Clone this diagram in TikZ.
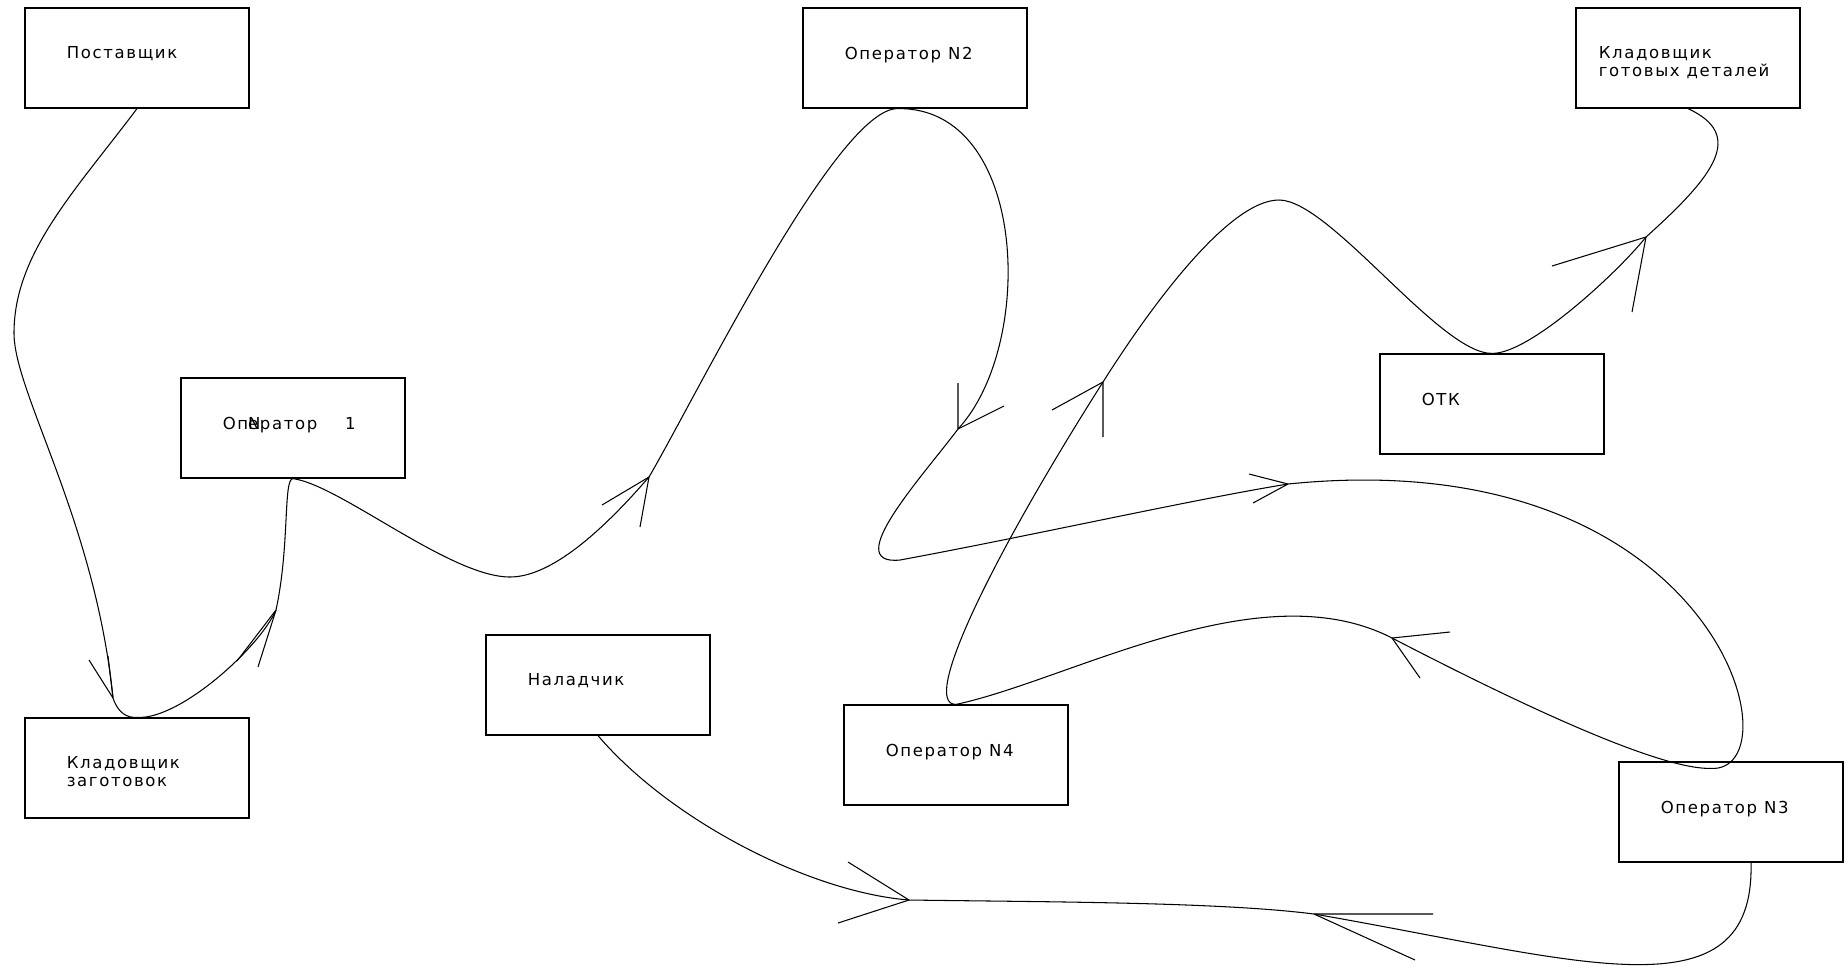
\documentclass[tikz,border=0pt]{standalone}
\usepackage{fontspec}
\newfontfamily\cadfont[LetterSpace=10]{DejaVu Sans}
\tikzset{
  unit/.style={draw, rectangle, line width=0.7pt, minimum width=4.48cm,
    minimum height=2cm, inner sep=0pt},
  tag/.style={anchor=north west, inner sep=0pt, align=left, xshift=#1,
    yshift=-0.78cm, font=\cadfont\fontsize{9.4}{10.2}\selectfont},
  tag/.default=0.84cm,
  flow/.style={line width=0.6pt}
}

\begin{document}
\begin{tikzpicture}[x=0.02cm, y=-0.02cm]
  \useasboundingbox (0,0) rectangle (1848,968);

  % Boxes
  \node[unit, label={[tag]north west:Поставщик}] (post) at (137,58) {};
  \node[unit, label={[tag]north west:Оп\rlap{N}ератор\ \ \ \ 1}] (op1) at (293,428) {};
  \node[unit, label={[tag]north west:Оператор\ N2}] (op2) at (915,58) {};
  \node[unit, label={[tag=0.46cm]north west:Кладовщик\\готовых\ деталей}] (skgot) at (1688,58) {};
  \node[unit, label={[tag]north west:ОТК}] (otk) at (1492,404) {};
  \node[unit, label={[tag]north west:Наладчик}] (nal) at (598,685) {};
  \node[unit, label={[tag]north west:Оператор\ N4}] (op4) at (956,755) {};
  \node[unit, label={[tag]north west:Оператор\ N3}] (op3) at (1731,812) {};
  \node[unit, label={[tag]north west:Кладовщик\\заготовок}] (skzag) at (137,768) {};

  % Arrow tips on the route
  \foreach \n/\x/\y in {t1/113/698, t2/276/610, t3/649/477, t4/958/429,
      t5/1288/484, t6/1392/638, t7/1103/382, t8/1646/237, t9/909/900,
      t10/1314/914}
    \coordinate (\n) at (\x,\y);

  % Route
  \draw[flow] (post.south) .. controls (76,190) and (14,253) .. (14,333)
    .. controls (14,393) and (95,520) .. (t1)
    .. controls (118,713) and (127,718) .. (skzag.north);
  \draw[flow] (skzag.north) .. controls (180,720) and (260,647) .. (t2)
    .. controls (290,545) and (283,479) .. (op1.south);
  \draw[flow] (op1.south) .. controls (340,485) and (450,577) .. (510,577)
    .. controls (555,577) and (610,522) .. (t3)
    .. controls (699,391) and (838,107) .. ([xshift=-0.34cm]op2.south);
  \draw[flow] ([xshift=-0.34cm]op2.south) .. controls (1028,107) and (1036,345) .. (t4)
    .. controls (922,477) and (840,566) .. (900,560)
    .. controls (1030,536) and (1190,500) .. (t5)
    .. controls (1720,440) and (1800,775) .. ([xshift=-0.42cm,yshift=-0.14cm]op3.north);
  \draw[flow] ([xshift=-0.42cm,yshift=-0.14cm]op3.north) .. controls (1650,769) and (1481,684) .. (t6)
    .. controls (1260,570) and (1070,680) .. (op4.north);
  \draw[flow] (op4.north) .. controls (920,705) and (990,560) .. (t7)
    .. controls (1151,306) and (1229,200) .. (1279,200)
    .. controls (1330,200) and (1440,354) .. (otk.north);
  \draw[flow] (otk.north) .. controls (1530,354) and (1618,272) .. (t8)
    .. controls (1715,175) and (1745,135) .. (skgot.south);
  \draw[flow] (nal.south) .. controls (670,820) and (809,892) .. (t9)
    .. controls (1050,902) and (1220,902) .. (t10)
    .. controls (1580,960) and (1755,1020) .. ([xshift=0.4cm]op3.south);

  % Arrow heads
  \foreach \n/\ax/\ay/\bx/\by in {t1/-24/-38/-5/-42, t2/-39/51/-18/57,
      t3/-47/28/-9/50, t4/0/-46/46/-23, t5/-39/-10/-35/19, t6/58/-6/28/40,
      t7/-51/28/0/55, t8/-94/29/-14/75, t9/-61/-38/-71/23, t10/119/0/101/46}
    \draw[flow] (\n) -- ++(\ax,\ay) (\n) -- ++(\bx,\by);
\end{tikzpicture}
\end{document}
